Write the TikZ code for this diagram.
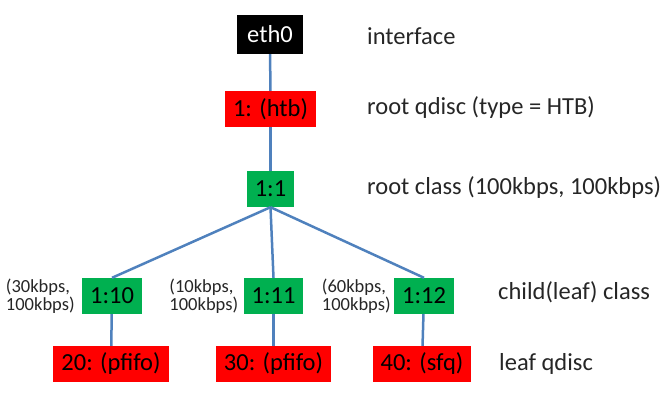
\documentclass[tikz,border=0pt]{standalone}
\usepackage{fontspec}
\setmainfont{Carlito}
\usepackage{tikz}

\definecolor{qred}{RGB}{255,0,0}
\definecolor{qgreen}{RGB}{0,176,80}
\definecolor{qblue}{RGB}{79,129,189}
\definecolor{qtext}{RGB}{38,38,38}

\tikzset{
  box/.style={rectangle,inner xsep=8pt,inner ysep=0pt,minimum height=36pt,
    font=\fontsize{24.5}{28}\selectfont,text=black},
  ifbox/.style={box,fill=black,text=white,minimum height=39pt,inner xsep=10pt},
  qdisc/.style={box,fill=qred},
  class/.style={box,fill=qgreen},
  tag/.style={anchor=west,inner sep=0pt,font=\fontsize{24.5}{28}\selectfont,text=qtext},
  rate/.style={anchor=east,inner sep=0pt,align=left,
    font=\fontsize{18.5}{18.5}\selectfont,text=qtext},
  link/.style={draw=qblue,line width=2.5pt}
}

\begin{document}
\begin{tikzpicture}[x=1pt,y=-1pt]
    \useasboundingbox (0,0) rectangle (669,404);

    \node[ifbox] (eth0) at (270,34.5) {eth0};
    \node[qdisc] (htb) at (270.5,109) {1: (htb)};
    \node[class] (root) at (270.5,189) {1:1};

    \node[class] (c10) at (112,296) {1:10};
    \node[class] (c11) at (273.5,296) {1:11};
    \node[class] (c12) at (424,296) {1:12};

    \node[qdisc] (l20) at (111,364) {20: (pfifo)};
    \node[qdisc] (l30) at (273.5,364) {30: (pfifo)};
    \node[qdisc] (l40) at (422,364) {40: (sfq)};

    % rates
    \node[rate] (r10) at ([xshift=-7pt]c10.west) {(30kbps,\\100kbps)};
    \node[rate] (r11) at ([xshift=-5pt]c11.west) {(10kbps,\\100kbps)};
    \node[rate] (r12) at ([xshift=-3pt]c12.west) {(60kbps,\\100kbps)};

    % legend on the right
    \node[tag] (t1) at (367,36) {interface};
    \node[tag] (t2) at (367,108) {root qdisc (type = HTB)};
    \node[tag] (t3) at (367,188) {root class (100kbps, 100kbps)};
    \node[tag] (t4) at (498,292) {child(leaf) class};
    \node[tag] (t5) at (499,364) {leaf qdisc};

    \draw[link] (eth0) -- (htb);
    \draw[link] (htb) -- (root);
    \draw[link] (root.south) -- (c10.north);
    \draw[link] (root.south) -- (c11.north);
    \draw[link] (root.south) -- (c12.north);
    \draw[link] (c10) -- (l20);
    \draw[link] (c11) -- (l30);
    \draw[link] (c12) -- (l40);
\end{tikzpicture}
\end{document}
